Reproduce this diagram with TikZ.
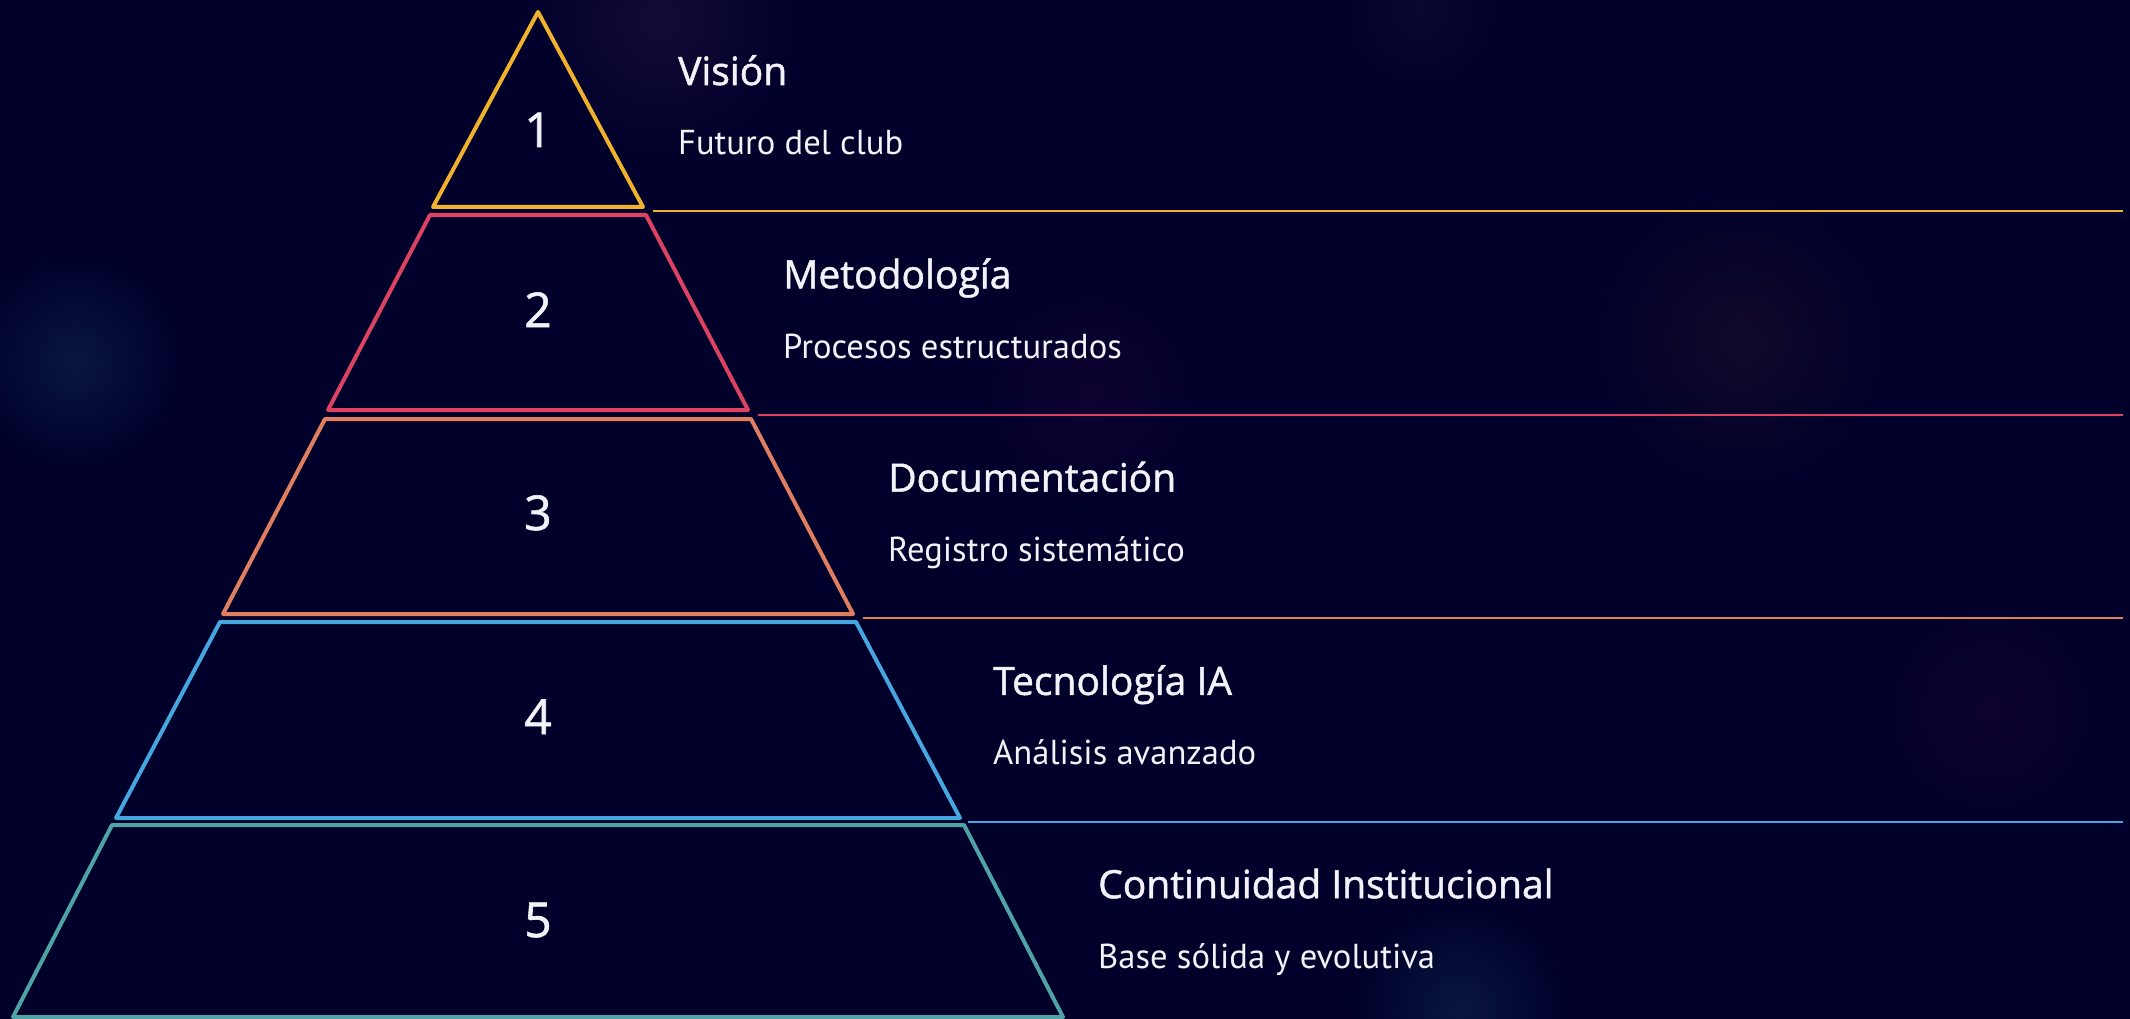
\documentclass[tikz,border=0pt]{standalone}
\usepackage{fontspec}
\setmainfont{PT Sans}
\newfontfamily\titlefont[FakeBold=1.3]{Open Sans}
\newfontfamily\numfont[FakeBold=1.3]{Open Sans}
\definecolor{bg}{RGB}{0,0,42}
\definecolor{cyel}{RGB}{240,178,44}
\definecolor{cred}{RGB}{222,66,98}
\definecolor{corg}{RGB}{226,126,96}
\definecolor{cblu}{RGB}{70,166,224}
\definecolor{cteal}{RGB}{78,164,164}
\definecolor{txt}{RGB}{242,242,248}
\definecolor{gblue}{RGB}{9,22,64}
\definecolor{gpurp}{RGB}{18,12,54}
\definecolor{gorg}{RGB}{18,10,42}
\definecolor{gred}{RGB}{14,2,48}
\definecolor{gfaint}{RGB}{8,8,50}
\tikzset{
  tier/.style={line width=4pt, line join=round, fill=bg},
  sep/.style={line width=2pt},
  ttl/.style={anchor=base west, text=txt, font=\titlefont\fontsize{39}{46}\selectfont, inner sep=0pt},
  sub/.style={anchor=base west, text=txt, font=\fontsize{34.6}{42}\selectfont, inner sep=0pt},
  num/.style={anchor=base, text=txt, font=\numfont\fontsize{48}{56}\selectfont, inner sep=0pt},
}
\begin{document}
\begin{tikzpicture}[x=1pt,y=-1pt]
\fill[bg] (0,0) rectangle (2130,1019);
\useasboundingbox (0,0) rectangle (2130,1019);
% soft glows
\shade[inner color=gblue, outer color=bg] (75,361) circle (110);
\shade[inner color=gpurp, outer color=bg] (660,20) circle (140);
\shade[inner color=gorg, outer color=bg] (1740,340) circle (150);
\shade[inner color=gred, outer color=bg] (1090,395) circle (120);
\shade[inner color=gred, outer color=bg] (1990,710) circle (120);
\shade[inner color=gblue, outer color=bg] (1460,1010) circle (110);
\shade[inner color=gfaint, outer color=bg] (1420,10) circle (80);
% tiers
\draw[tier, draw=cyel] (538,12) -- (643,207) -- (433,207) -- cycle;
\draw[tier, draw=cred] (430,215) -- (646,215) -- (748,410) -- (328,410) -- cycle;
\draw[tier, draw=corg] (325,419) -- (751,419) -- (853,614) -- (223,614) -- cycle;
\draw[tier, draw=cblu] (220,622) -- (856,622) -- (960,818) -- (116,818) -- cycle;
\draw[tier, draw=cteal] (112,825) -- (964,825) -- (1063,1017) -- (13,1017) -- cycle;
% separator lines
\coordinate (a1) at (653,211);   \coordinate (b1) at (2123,211);
\coordinate (a2) at (758,414.5); \coordinate (b2) at (2123,414.5);
\coordinate (a3) at (863,618);   \coordinate (b3) at (2123,618);
\coordinate (a4) at (968,821.5); \coordinate (b4) at (2123,821.5);
\draw[sep, cyel] (a1) -- (b1);
\draw[sep, cred] (a2) -- (b2);
\draw[sep, corg] (a3) -- (b3);
\draw[sep, cblu] (a4) -- (b4);
% numbers
\node[num] (n1) at (538,147) {1};
\node[num] (n2) at (538,327) {2};
\node[num] (n3) at (538,530) {3};
\node[num] (n4) at (538,734) {4};
\node[num] (n5) at (538,937) {5};
% titles and subtitles
\node[ttl] (t1) at (678,85) {Visión};
\node[sub] (s1) at (678,155) {Futuro del club};
\node[ttl] (t2) at (783,288.3) {Metodología};
\node[sub] (s2) at (783,358.3) {Procesos estructurados};
\node[ttl] (t3) at (888,491.6) {Documentación};
\node[sub] (s3) at (888,561.6) {Registro sistemático};
\node[ttl] (t4) at (993,694.9) {Tecnología IA};
\node[sub] (s4) at (993,764.9) {Análisis avanzado};
\node[ttl] (t5) at (1098,898.2) {Continuidad Institucional};
\node[sub] (s5) at (1098,968.2) {Base sólida y evolutiva};
\end{tikzpicture}
\end{document}
